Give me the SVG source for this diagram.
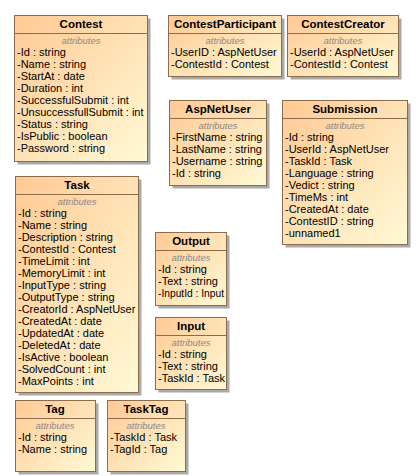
<svg xmlns="http://www.w3.org/2000/svg" width="420" height="476" viewBox="0 0 420 476">
<defs>
<linearGradient id="g" x1="0" y1="0" x2="1" y2="1">
<stop offset="0" stop-color="#FFC994"/>
<stop offset="1" stop-color="#FFFAD6"/>
</linearGradient>
</defs>
<style>
.sh{fill:#A9A9A9}
.bx{fill:url(#g);stroke:#8B6D4C;stroke-width:1}
.ln{stroke:#8B6D4C;stroke-width:1}
.t{font-family:"Liberation Sans",Arial,sans-serif;font-size:11.5px;font-weight:bold;fill:#000;text-anchor:middle}
.s{font-family:"Liberation Sans",Arial,sans-serif;font-size:9.5px;font-style:italic;fill:#8A8A8A;text-anchor:middle}
.a{font-family:"Liberation Sans",Arial,sans-serif;font-size:11px;fill:#000}
</style>
<rect width="420" height="476" fill="#fff"/>
<g id="connectors"></g>

<g id="Contest">
<rect class="sh" x="17.5" y="18.5" width="133" height="146"/>
<rect class="bx" x="14.5" y="15.5" width="133" height="146"/>
<line class="ln" x1="14.5" y1="33.5" x2="147.5" y2="33.5"/>
<text class="t" x="81" y="28">Contest</text>
<text class="s" x="81" y="44">attributes</text>
<text class="a" x="17" y="56">-Id : string</text>
<text class="a" x="17" y="68">-Name : string</text>
<text class="a" x="17" y="80">-StartAt : date</text>
<text class="a" x="17" y="92">-Duration : int</text>
<text class="a" x="17" y="104">-SuccessfulSubmit : int</text>
<text class="a" x="17" y="116">-UnsuccessfullSubmit : int</text>
<text class="a" x="17" y="128">-Status : string</text>
<text class="a" x="17" y="140">-IsPublic : boolean</text>
<text class="a" x="17" y="152">-Password : string</text>
</g>

<g id="ContestParticipant">
<rect class="sh" x="171.5" y="18.5" width="113" height="61"/>
<rect class="bx" x="168.5" y="15.5" width="113" height="61"/>
<line class="ln" x1="168.5" y1="33.5" x2="281.5" y2="33.5"/>
<text class="t" x="225" y="28">ContestParticipant</text>
<text class="s" x="225" y="44">attributes</text>
<text class="a" x="171" y="56">-UserID : AspNetUser</text>
<text class="a" x="171" y="68">-ContestId : Contest</text>
</g>

<g id="ContestCreator">
<rect class="sh" x="290.5" y="18.5" width="111" height="61"/>
<rect class="bx" x="287.5" y="15.5" width="111" height="61"/>
<line class="ln" x1="287.5" y1="33.5" x2="398.5" y2="33.5"/>
<text class="t" x="343" y="28">ContestCreator</text>
<text class="s" x="343" y="44">attributes</text>
<text class="a" x="290" y="56">-UserId : AspNetUser</text>
<text class="a" x="290" y="68">-ContestId : Contest</text>
</g>

<g id="AspNetUser">
<rect class="sh" x="172.5" y="103.5" width="97" height="85"/>
<rect class="bx" x="169.5" y="100.5" width="97" height="85"/>
<line class="ln" x1="169.5" y1="118.5" x2="266.5" y2="118.5"/>
<text class="t" x="218" y="113">AspNetUser</text>
<text class="s" x="218" y="129">attributes</text>
<text class="a" x="172" y="141">-FirstName : string</text>
<text class="a" x="172" y="153">-LastName : string</text>
<text class="a" x="172" y="165">-Username : string</text>
<text class="a" x="172" y="177">-Id : string</text>
</g>

<g id="Submission">
<rect class="sh" x="285.5" y="103.5" width="125" height="144"/>
<rect class="bx" x="282.5" y="100.5" width="125" height="144"/>
<line class="ln" x1="282.5" y1="118.5" x2="407.5" y2="118.5"/>
<text class="t" x="345" y="113">Submission</text>
<text class="s" x="345" y="129">attributes</text>
<text class="a" x="285" y="141">-Id : string</text>
<text class="a" x="285" y="153">-UserId : AspNetUser</text>
<text class="a" x="285" y="165">-TaskId : Task</text>
<text class="a" x="285" y="177">-Language : string</text>
<text class="a" x="285" y="189">-Vedict : string</text>
<text class="a" x="285" y="201">-TimeMs : int</text>
<text class="a" x="285" y="213">-CreatedAt : date</text>
<text class="a" x="285" y="225">-ContestID : string</text>
<text class="a" x="285" y="237">-unnamed1</text>
</g>

<g id="Task">
<rect class="sh" x="18.5" y="179.5" width="123" height="216"/>
<rect class="bx" x="15.5" y="176.5" width="123" height="216"/>
<line class="ln" x1="15.5" y1="194.5" x2="138.5" y2="194.5"/>
<text class="t" x="77" y="189">Task</text>
<text class="s" x="77" y="205">attributes</text>
<text class="a" x="18" y="217">-Id : string</text>
<text class="a" x="18" y="229">-Name : string</text>
<text class="a" x="18" y="241">-Description : string</text>
<text class="a" x="18" y="253">-ContestId : Contest</text>
<text class="a" x="18" y="265">-TimeLimit : int</text>
<text class="a" x="18" y="277">-MemoryLimit : int</text>
<text class="a" x="18" y="289">-InputType : string</text>
<text class="a" x="18" y="301">-OutputType : string</text>
<text class="a" x="18" y="313">-CreatorId : AspNetUser</text>
<text class="a" x="18" y="325">-CreatedAt : date</text>
<text class="a" x="18" y="337">-UpdatedAt : date</text>
<text class="a" x="18" y="349">-DeletedAt : date</text>
<text class="a" x="18" y="361">-IsActive : boolean</text>
<text class="a" x="18" y="373">-SolvedCount : int</text>
<text class="a" x="18" y="385">-MaxPoints : int</text>
</g>

<g id="Output">
<rect class="sh" x="158.5" y="235.5" width="71" height="73"/>
<rect class="bx" x="155.5" y="232.5" width="71" height="73"/>
<line class="ln" x1="155.5" y1="250.5" x2="226.5" y2="250.5"/>
<text class="t" x="191" y="245">Output</text>
<text class="s" x="191" y="261">attributes</text>
<text class="a" x="158" y="273">-Id : string</text>
<text class="a" x="158" y="285">-Text : string</text>
<text class="a" x="158" y="297" textLength="66" lengthAdjust="spacingAndGlyphs">-InputId : Input</text>
</g>

<g id="Input">
<rect class="sh" x="158.5" y="320.5" width="71" height="72"/>
<rect class="bx" x="155.5" y="317.5" width="71" height="72"/>
<line class="ln" x1="155.5" y1="335.5" x2="226.5" y2="335.5"/>
<text class="t" x="191" y="330">Input</text>
<text class="s" x="191" y="346">attributes</text>
<text class="a" x="158" y="358">-Id : string</text>
<text class="a" x="158" y="370">-Text : string</text>
<text class="a" x="158" y="382">-TaskId : Task</text>
</g>

<g id="Tag">
<rect class="sh" x="18.5" y="403.5" width="80" height="71"/>
<rect class="bx" x="15.5" y="400.5" width="80" height="71"/>
<line class="ln" x1="15.5" y1="418.5" x2="95.5" y2="418.5"/>
<text class="t" x="55" y="413">Tag</text>
<text class="s" x="55" y="429">attributes</text>
<text class="a" x="18" y="441">-Id : string</text>
<text class="a" x="18" y="453">-Name : string</text>
</g>

<g id="TaskTag">
<rect class="sh" x="110.5" y="403.5" width="78" height="71"/>
<rect class="bx" x="107.5" y="400.5" width="78" height="71"/>
<line class="ln" x1="107.5" y1="418.5" x2="185.5" y2="418.5"/>
<text class="t" x="146" y="413">TaskTag</text>
<text class="s" x="146" y="429">attributes</text>
<text class="a" x="110" y="441">-TaskId : Task</text>
<text class="a" x="110" y="453">-TagId : Tag</text>
</g>
</svg>
